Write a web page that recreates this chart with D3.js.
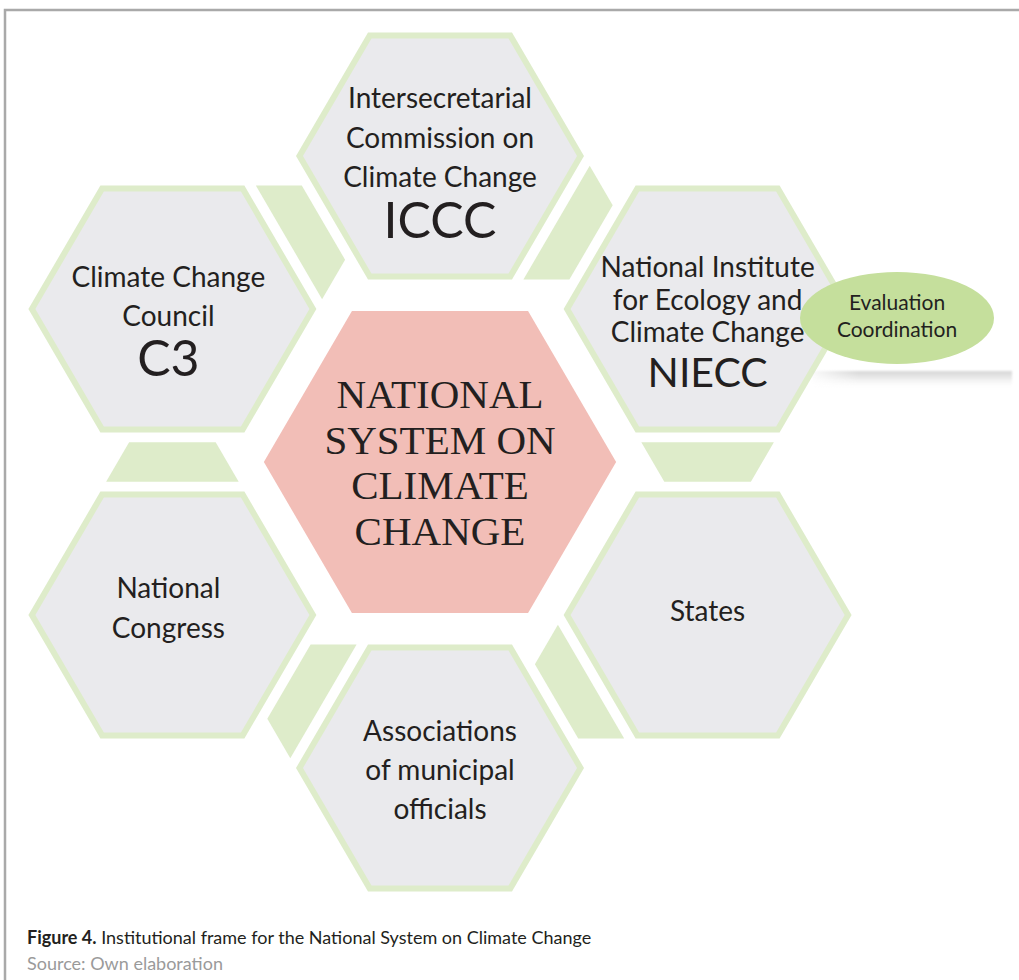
<!DOCTYPE html>
<html>
<head>
<meta charset="UTF-8">
<title>National System on Climate Change</title>
<script src="https://cdnjs.cloudflare.com/ajax/libs/d3/7.8.5/d3.min.js"></script>
<style>
  body { margin: 0; background: #fff; }
  svg text { font-family: Lato, "Open Sans", sans-serif; fill: #231f20; }
</style>
</head>
<body>
<div id="chart"></div>
<script>
// member bodies round the ring, clockwise from the top
var ringNames = ["ICCC", "NIECC", "States", "Associations", "Congress", "C3"];
var ringLines = [
  ["Intersecretarial", "Commission on", "Climate Change"],
  ["National Institute", "for Ecology and", "Climate Change"],
  ["States"],
  ["Associations", "of municipal", "officials"],
  ["National", "Congress"],
  ["Climate Change", "Council"]
];
var ringAbbr = ["ICCC", "NIECC", "", "", "", "C3"];
var centerLines = ["NATIONAL", "SYSTEM ON", "CLIMATE", "CHANGE"];
var badgeLines = ["Evaluation", "Coordination"];
var captionBold = "Figure 4.";
var captionText = " Institutional frame for the National System on Climate Change";
var sourceText = "Source: Own elaboration";

// text placement inside each cell (px offsets from the cell centre)
var textLayout = {
  ICCC:         {base: -48, step: 39.5, abbrY: 82, abbrSize: 50, dx: 0},
  NIECC:        {base: -32, step: 32.5, abbrY: 78, abbrSize: 41, dx: 0},
  States:       {base: 6,   step: 0,    dx: 0},
  Associations: {base: -27, step: 39,   dx: 0},
  Congress:     {base: -17, step: 40,   dx: -4},
  C3:           {base: -22, step: 39,   abbrY: 67, abbrSize: 50, dx: -4}
};

var W = 1019, H = 980;
var cx = 440, cy = 462;
var x = d3.scaleLinear().domain([-1, 1]).range([cx - 309, cx + 309]);
var y = d3.scaleLinear().domain([-1, 1]).range([cy + 306, cy - 306]);

var rOuter = 0.466, rCenter = 0.57, gap = 0.032, rim = 0.0225;
var apo = rOuter * Math.sqrt(3) / 2;

var green = "#deecca", grey = "#eaeaed", pink = "#f2beb7", badgeGreen = "#c5df9c";

function dir(deg) { var a = deg * Math.PI / 180; return [Math.cos(a), Math.sin(a)]; }
function dot(a, b) { return a[0] * b[0] + a[1] * b[1]; }
function hexPoints(u, v, r) {
  return d3.range(6).map(function(k) {
    var d = dir(60 * k);
    return [x(u + r * d[0]), y(v + r * d[1])];
  });
}
// intersection of n1.p = c1 and n2.p = c2
function meet(l1, l2) {
  var n1 = l1.n, n2 = l2.n;
  var det = n1[0] * n2[1] - n1[1] * n2[0];
  return [(l1.c * n2[1] - l2.c * n1[1]) / det, (n1[0] * l2.c - n2[0] * l1.c) / det];
}

var ring = ringNames.map(function(n, i) {
  var ang = 90 - 60 * i, d = dir(ang);
  return {name: n, angle: ang, p: d, lines: ringLines[i], abbr: ringAbbr[i]};
});

// link pieces in the gaps between neighbouring cells
var links = ring.map(function(b, i) {
  var a = ring[(i + 5) % 6], t = b.angle;
  function line(deg, P, off) { var n = dir(deg); return {n: n, c: off + dot(n, P)}; }
  var L1 = line(t, a.p, apo),
      L2 = line(t - 60, a.p, apo + gap),
      L3 = line(t + 120, b.p, apo + gap),
      L4 = line(t + 240, a.p, apo);
  return [meet(L1, L2), meet(L1, L3), meet(L3, L4), meet(L2, L4)]
    .map(function(q) { return [x(q[0]), y(q[1])]; });
});

var svg = d3.select("#chart").append("svg")
    .attr("width", W)
    .attr("height", H);

var defs = svg.append("defs");
var sg = defs.append("linearGradient").attr("id", "shade")
    .attr("x1", 0).attr("y1", 0).attr("x2", 0).attr("y2", 1);
sg.append("stop").attr("offset", "0%").attr("stop-color", "#d6d6d6");
sg.append("stop").attr("offset", "35%").attr("stop-color", "#e8e8e8");
sg.append("stop").attr("offset", "100%").attr("stop-color", "#ffffff").attr("stop-opacity", 0);
var hg = defs.append("linearGradient").attr("id", "fadeX")
    .attr("x1", 0).attr("y1", 0).attr("x2", 1).attr("y2", 0);
hg.append("stop").attr("offset", "0%").attr("stop-color", "#fff").attr("stop-opacity", 0);
hg.append("stop").attr("offset", "25%").attr("stop-color", "#fff").attr("stop-opacity", 1);
hg.append("stop").attr("offset", "100%").attr("stop-color", "#fff").attr("stop-opacity", 1);
defs.append("mask").attr("id", "fadeMask")
    .append("rect")
    .attr("x", 805).attr("y", 360).attr("width", 214).attr("height", 40)
    .attr("fill", "url(#fadeX)");
defs.append("filter").attr("id", "soft")
    .append("feGaussianBlur").attr("stdDeviation", 1.2);

// frame
svg.append("path")
    .attr("d", "M5," + H + "V10H" + W)
    .attr("fill", "none")
    .attr("stroke", "#a9a9a9")
    .attr("stroke-width", 2.5);

svg.append("g").selectAll("polygon")
    .data(links)
    .enter().append("polygon")
    .attr("points", function(d) { return d.join(" "); })
    .attr("fill", green);

var cells = svg.append("g").selectAll("g")
    .data(ring)
    .enter().append("g");

cells.append("polygon")
    .attr("points", function(d) { return hexPoints(d.p[0], d.p[1], rOuter).join(" "); })
    .attr("fill", green);
cells.append("polygon")
    .attr("points", function(d) { return hexPoints(d.p[0], d.p[1], rOuter - rim).join(" "); })
    .attr("fill", grey);

cells.each(function(d) {
  var g = d3.select(this), lay = textLayout[d.name];
  var tx = x(d.p[0]) + lay.dx, ty = y(d.p[1]);
  d.lines.forEach(function(s, k) {
    g.append("text")
        .attr("x", tx)
        .attr("y", ty + lay.base + k * lay.step)
        .attr("text-anchor", "middle")
        .style("font-size", "28px")
        .text(s);
  });
  if (d.abbr) {
    g.append("text")
        .attr("x", tx)
        .attr("y", ty + lay.abbrY)
        .attr("text-anchor", "middle")
        .style("font-size", lay.abbrSize + "px")
        .text(d.abbr);
  }
});

// central cell
svg.append("polygon")
    .attr("points", hexPoints(0, 0, rCenter).join(" "))
    .attr("fill", pink);
svg.append("g").selectAll("text")
    .data(centerLines)
    .enter().append("text")
    .attr("x", x(0))
    .attr("y", function(d, i) { return y(0) - 54 + i * 45.7; })
    .attr("text-anchor", "middle")
    .style("font-family", "'Liberation Serif', 'DejaVu Serif', serif")
    .style("font-size", "41px")
    .text(function(d) { return d; });

// evaluation badge with its shadow
svg.append("g").attr("mask", "url(#fadeMask)")
  .append("rect")
    .attr("x", 812).attr("y", 371)
    .attr("width", 200).attr("height", 18)
    .attr("fill", "url(#shade)")
    .attr("filter", "url(#soft)");
svg.append("ellipse")
    .attr("cx", 897).attr("cy", 318)
    .attr("rx", 97).attr("ry", 46)
    .attr("fill", badgeGreen);
svg.append("g").selectAll("text")
    .data(badgeLines)
    .enter().append("text")
    .attr("x", 897)
    .attr("y", function(d, i) { return 310 + i * 27; })
    .attr("text-anchor", "middle")
    .style("font-size", "21px")
    .text(function(d) { return d; });

// caption
var cap = svg.append("text")
    .attr("x", 27).attr("y", 944)
    .style("font-size", "18px");
cap.append("tspan").style("font-weight", "bold").text(captionBold);
cap.append("tspan").text(captionText);
svg.append("text")
    .attr("x", 27).attr("y", 970)
    .style("font-size", "18px")
    .style("fill", "#9a9a9a")
    .text(sourceText);
</script>
</body>
</html>
